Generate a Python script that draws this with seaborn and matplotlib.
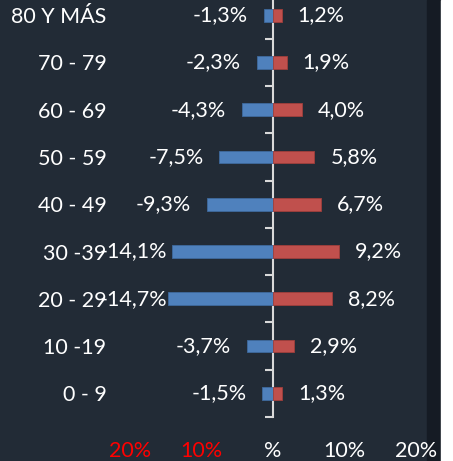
import matplotlib
matplotlib.use('Agg')
import matplotlib.pyplot as plt
from matplotlib.patches import Rectangle
import seaborn as sns
import pandas as pd

# datos (de arriba a abajo)
grupos = ['80 Y MÁS', '70 - 79', '60 - 69', '50 - 59', '40 - 49',
          '30 -39', '20 - 29', '10 -19', '0 - 9']
hombres = [-1.3, -2.3, -4.3, -7.5, -9.3, -14.1, -14.7, -3.7, -1.5]
mujeres = [1.2, 1.9, 4.0, 5.8, 6.7, 9.2, 8.2, 2.9, 1.3]
xticks = [-20, -10, 0, 10, 20]
xtick_labels = ['20%', '10%', '%', '10%', '20%']

df = pd.DataFrame({'grupo': grupos, 'H': hombres, 'M': mujeres})

bg = '#222b36'
fs = 15.5
W, H = 453, 461
fig = plt.figure(figsize=(W / 100, H / 100), dpi=100, facecolor=bg)
plt.rcParams['font.family'] = ['Lato', 'DejaVu Sans']

# franja oscura y borde blanco a la derecha
fig.patches.append(Rectangle((427 / W, 0), 14 / W, 1, transform=fig.transFigure,
                             color='#151b24', zorder=0))
fig.patches.append(Rectangle((441 / W, 0), 12 / W, 1, transform=fig.transFigure,
                             color='white', zorder=0))

ax_l, ax_r, ax_b = 108, 427, 417
ax = fig.add_axes([ax_l / W, (H - ax_b) / H, (ax_r - ax_l) / W, ax_b / H])
ax.set_facecolor('none')
ax.set_zorder(1)

sns.barplot(data=df, x='H', y='grupo', order=grupos, orient='h', color='#4f81bd',
            saturation=1, width=0.27, ax=ax, edgecolor='#3e6a9e', linewidth=0.6)
sns.barplot(data=df, x='M', y='grupo', order=grupos, orient='h', color='#c0504d',
            saturation=1, width=0.27, ax=ax, edgecolor='#a03f3c', linewidth=0.6)

px = 7.15  # pixeles por 1%
ax.set_xlim(-(273 - ax_l) / px, (ax_r - 273) / px)
ax.set_ylim(len(grupos) - 0.5, -0.32)

for s in ax.spines.values():
    s.set_visible(False)

ax.set_xlabel('')
ax.set_ylabel('')
ax.set_xticks(xticks)
ax.set_xticklabels(xtick_labels, fontsize=fs)
for lab, v in zip(ax.get_xticklabels(), xticks):
    lab.set_color('#ff0000' if v < 0 else 'white')
ax.tick_params(axis='x', length=0, pad=17)
ax.tick_params(axis='y', length=0, pad=1, labelsize=fs, labelcolor='white')

# eje vertical en 0 con marcas entre grupos
x0 = (0 - ax.get_xlim()[0]) / (ax.get_xlim()[1] - ax.get_xlim()[0])
sec = ax.secondary_yaxis(x0)
sec.set_yticks([i + 0.5 for i in range(len(grupos))])
sec.set_yticklabels([])
sec.tick_params(length=6, width=1.5, color='#d9d9d9', direction='in')
for s in sec.spines.values():
    s.set_color('#d9d9d9')
    s.set_linewidth(1.5)

fmt = lambda v: f'{v:.1f}%'.replace('.', ',')
neg_labels = []
for i, (h, m) in enumerate(zip(hombres, mujeres)):
    ax.annotate(fmt(m), (m, i), xytext=(11.5, 0), textcoords='offset points',
                ha='left', va='center', color='white', fontsize=fs)
    t = ax.annotate(fmt(h), (h, i), xytext=(-11.5, 0), textcoords='offset points',
                    ha='right', va='center', color='white', fontsize=fs, zorder=1)
    neg_labels.append(t)

# etiquetas que no caben se pegan al borde del area
lim = 100
fig.canvas.draw()
r = fig.canvas.get_renderer()
for t in neg_labels:
    bb = t.get_window_extent(r)
    if bb.x0 < lim:
        dx = (lim - bb.x0) * 72 / 100
        t.xyann = (t.xyann[0] + dx, 0)

fig.savefig('out.png', dpi=100, facecolor=bg)
